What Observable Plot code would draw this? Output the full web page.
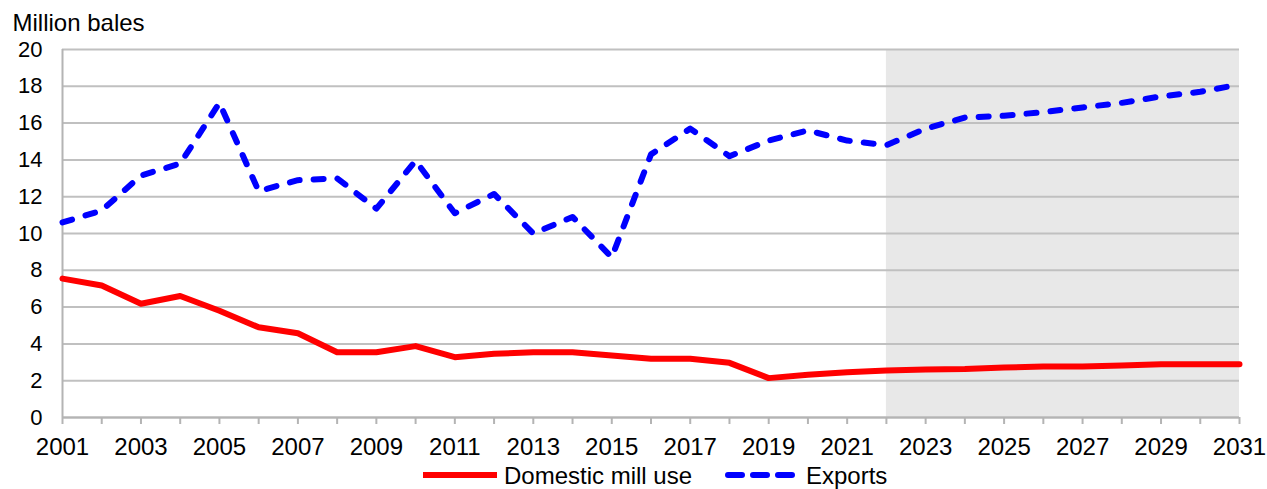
<!DOCTYPE html>
<html>
<head>
<meta charset="utf-8">
<script src="https://cdn.jsdelivr.net/npm/d3@7"></script>
<script src="https://cdn.jsdelivr.net/npm/@observablehq/plot@0.6"></script>
<style>
  body { margin: 0; background: #fff; font-family: "Liberation Sans", Arial, sans-serif; }
  #wrap { position: relative; width: 1267px; height: 489px; overflow: hidden; background: #fff; }
  #chart { position: absolute; left: 0; top: 0; }
  #legend { position: absolute; left: 0; top: 461px; width: 1267px; height: 28px; font-size: 24px; color: #000; }
  .item { position: absolute; top: 0; height: 28px; display: flex; align-items: center; white-space: nowrap; line-height: 27px; }
  .item svg { margin-right: 7px; }
</style>
</head>
<body>
<div id="wrap">
  <div id="chart"></div>
  <div id="legend"></div>
</div>
<script>
const years = [2001, 2002, 2003, 2004, 2005, 2006, 2007, 2008, 2009, 2010,
               2011, 2012, 2013, 2014, 2015, 2016, 2017, 2018, 2019, 2020,
               2021, 2022, 2023, 2024, 2025, 2026, 2027, 2028, 2029, 2030, 2031];
const domesticMillUse = [7.55, 7.17, 6.18, 6.6, 5.8, 4.9, 4.58, 3.55, 3.55, 3.88,
                         3.28, 3.46, 3.55, 3.54, 3.37, 3.19, 3.19, 2.97, 2.14, 2.32,
                         2.46, 2.55, 2.61, 2.64, 2.72, 2.77, 2.77, 2.83, 2.9, 2.9, 2.9];
const exportsValues = [10.6, 11.25, 13.15, 13.8, 17.1, 12.3, 12.9, 13.0, 11.35, 13.95,
                       11.1, 12.15, 10.0, 10.9, 8.7, 14.3, 15.7, 14.2, 15.05, 15.6,
                       15.05, 14.8, 15.7, 16.3, 16.4, 16.6, 16.85, 17.1, 17.45, 17.7, 18.1];
const seriesNames = ["Domestic mill use", "Exports"];
const seriesColors = ["#ff0000", "#0000ff"];
const yTicks = [0, 2, 4, 6, 8, 10, 12, 14, 16, 18, 20];
const xLabelYears = [2001, 2003, 2005, 2007, 2009, 2011, 2013, 2015, 2017, 2019,
                     2021, 2023, 2025, 2027, 2029, 2031];
const projectionPeriod = [{start: 2022, end: 2031}];
const yLabel = "Million bales";

const rows = years.flatMap((yr, i) => [
  {year: yr, value: domesticMillUse[i], series: seriesNames[0]},
  {year: yr, value: exportsValues[i], series: seriesNames[1]}
]);

const font = '"Liberation Sans", Arial, sans-serif';

const chart = Plot.plot({
  width: 1267,
  height: 461,
  marginLeft: 62,
  marginRight: 28,
  marginTop: 49,
  marginBottom: 44,
  style: {fontFamily: font, fontSize: "24px", color: "#000", background: "#fff", overflow: "visible"},
  x: {type: "linear", domain: [2001, 2031]},
  y: {domain: [0, 20]},
  marks: [
    Plot.rect(projectionPeriod, {x1: "start", x2: "end", y1: 0, y2: 20, fill: "#e8e8e8"}),
    Plot.ruleY(yTicks, {stroke: "#c0c0c0", strokeWidth: 2}),
    Plot.ruleX([2001], {y1: 0, y2: 20, stroke: "#b4b4b4", strokeWidth: 2}),
    Plot.ruleY([0], {stroke: "#b4b4b4", strokeWidth: 2}),
    Plot.axisY({ticks: yTicks, tickSize: 0, tickPadding: 20, label: null, fontSize: 22, fill: "#000"}),
    Plot.axisX({ticks: years, tickSize: 7, tickFormat: () => "", label: null, stroke: "#b4b4b4", strokeWidth: 2}),
    Plot.axisX({ticks: xLabelYears, tickSize: 0, tickPadding: 20, tickFormat: "d", label: null, fontSize: 24, fill: "#000"}),
    Plot.lineY(rows.filter(d => d.series === seriesNames[0]), {
      x: "year", y: "value", stroke: seriesColors[0], strokeWidth: 6, strokeLinejoin: "round"
    }),
    Plot.lineY(rows.filter(d => d.series === seriesNames[1]), {
      x: "year", y: "value", stroke: seriesColors[1], strokeWidth: 6,
      strokeDasharray: "10,14", strokeLinecap: "round", strokeLinejoin: "round"
    }),
    Plot.text([yLabel], {
      frameAnchor: "top-left", dx: -50, dy: -26, textAnchor: "start", lineAnchor: "middle",
      fontSize: 24, fill: "#000"
    })
  ]
});
document.getElementById("chart").appendChild(chart);

// Legend (HTML, below the SVG)
const legend = document.getElementById("legend");
const legendLeft = [423, 725];
seriesNames.forEach((name, i) => {
  const item = document.createElement("div");
  item.className = "item";
  item.style.left = legendLeft[i] + "px";
  const dashed = i === 1;
  item.innerHTML =
    `<svg width="74" height="12"><line x1="${dashed ? 3 : 0}" y1="6" x2="${dashed ? 71 : 74}" y2="6" stroke="${seriesColors[i]}" stroke-width="6" ${dashed ? 'stroke-dasharray="14,11" stroke-linecap="round"' : 'stroke-linecap="round"'}/></svg><span>${name}</span>`;
  legend.appendChild(item);
});
</script>
</body>
</html>
